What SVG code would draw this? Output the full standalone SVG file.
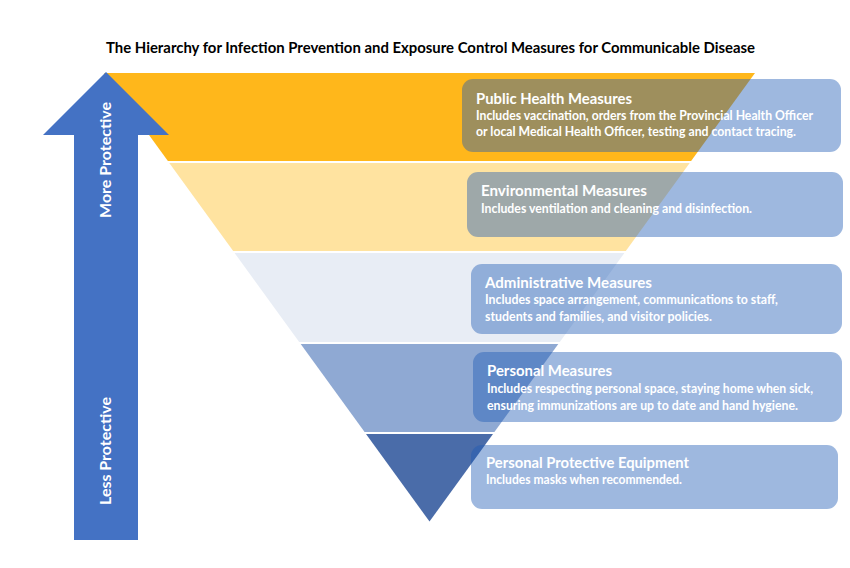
<svg xmlns="http://www.w3.org/2000/svg" width="850" height="568" viewBox="0 0 850 568">
  <style>
    text { font-family: Lato, "Open Sans", "Liberation Sans", sans-serif; font-weight: 700; }
    .main { font-size: 15px; fill: #000000; }
    .side { font-size: 16px; fill: #ffffff; }
    .bt { font-size: 14.5px; fill: #ffffff; }
    .bd { font-size: 12.5px; fill: #ffffff; }
    .box { fill: #1F5AB5; fill-opacity: 0.43; }
  </style>
  <rect width="850" height="568" fill="#ffffff"/>
  <text class="main" x="106" y="53" textLength="649" lengthAdjust="spacingAndGlyphs">The Hierarchy for Infection Prevention and Exposure Control Measures for Communicable Disease</text>

  <g id="pyramid">
    <polygon id="band1" points="104,73 755,73 691.1,161 167.9,161" fill="#FFB71B"/>
    <polygon id="band2" points="169.3,163 689.7,163 625.8,251 233.2,251" fill="#FFE3A0"/>
    <polygon id="band3" points="234.6,253 624.4,253 559.8,342 299.2,342" fill="#E8EDF5"/>
    <polygon id="band4" points="300.7,344 558.3,344 494.4,432 364.6,432" fill="#8FA9D3"/>
    <polygon id="band5" points="366,434 493,434 429.5,521.5" fill="#4A6CA9"/>
  </g>

  <g id="arrow">
    <polygon points="106,72 169,135 138,135 138,540 74,540 74,135 43,135" fill="#4472C4"/>
    <text class="side" x="111" y="160" text-anchor="middle" transform="rotate(-90 111 160)" textLength="116" lengthAdjust="spacingAndGlyphs">More Protective</text>
    <text class="side" x="111" y="451" text-anchor="middle" transform="rotate(-90 111 451)" textLength="108" lengthAdjust="spacingAndGlyphs">Less Protective</text>
  </g>

  <g id="public-health">
    <rect class="box" x="462" y="79" width="379" height="73" rx="11"/>
    <text class="bt" x="476" y="104" textLength="156" lengthAdjust="spacingAndGlyphs">Public Health Measures</text>
    <text class="bd" x="476" y="120" textLength="337" lengthAdjust="spacingAndGlyphs">Includes vaccination, orders from the Provincial Health Officer</text>
    <text class="bd" x="476" y="136" textLength="320" lengthAdjust="spacingAndGlyphs">or local Medical Health Officer, testing and contact tracing.</text>
  </g>

  <g id="environmental">
    <rect class="box" x="467" y="172" width="376" height="65" rx="11"/>
    <text class="bt" x="481" y="196" textLength="166" lengthAdjust="spacingAndGlyphs">Environmental Measures</text>
    <text class="bd" x="481" y="213" textLength="271" lengthAdjust="spacingAndGlyphs">Includes ventilation and cleaning and disinfection.</text>
  </g>

  <g id="administrative">
    <rect class="box" x="471" y="264" width="371" height="70" rx="11"/>
    <text class="bt" x="485" y="288" textLength="167" lengthAdjust="spacingAndGlyphs">Administrative Measures</text>
    <text class="bd" x="485" y="304" textLength="293" lengthAdjust="spacingAndGlyphs">Includes space arrangement, communications to staff,</text>
    <text class="bd" x="485" y="321" textLength="227" lengthAdjust="spacingAndGlyphs">students and families, and visitor policies.</text>
  </g>

  <g id="personal">
    <rect class="box" x="473" y="352" width="369" height="70" rx="11"/>
    <text class="bt" x="487" y="376" textLength="125" lengthAdjust="spacingAndGlyphs">Personal Measures</text>
    <text class="bd" x="487" y="393" textLength="326" lengthAdjust="spacingAndGlyphs">Includes respecting personal space, staying home when sick,</text>
    <text class="bd" x="487" y="410" textLength="311" lengthAdjust="spacingAndGlyphs">ensuring immunizations are up to date and hand hygiene.</text>
  </g>

  <g id="ppe">
    <rect class="box" x="471" y="445" width="367" height="64" rx="11"/>
    <text class="bt" x="486" y="468" textLength="203" lengthAdjust="spacingAndGlyphs">Personal Protective Equipment</text>
    <text class="bd" x="486" y="484" textLength="196" lengthAdjust="spacingAndGlyphs">Includes masks when recommended.</text>
  </g>

  <g id="connectors"></g>
</svg>
